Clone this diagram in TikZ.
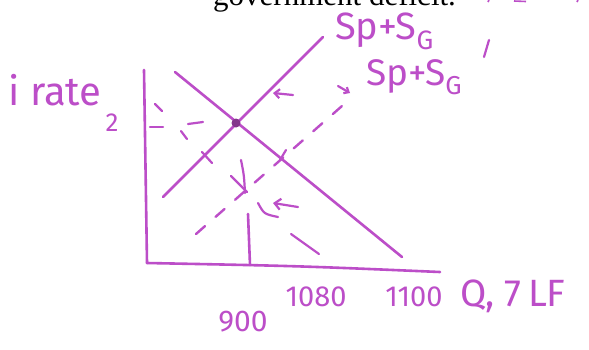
\documentclass[tikz,border=0pt]{standalone}
\usepackage{fontspec}
\setmainfont{Liberation Serif}
\newfontfamily\hand{Fira Sans}
\usetikzlibrary{arrows.meta}
\definecolor{pen}{RGB}{188,78,200}
\tikzset{
  ink/.style={draw=pen, line width=2.6pt, line cap=round, line join=round},
  inkthin/.style={draw=pen, line width=2.2pt, line cap=round},
  dashink/.style={draw=pen, line width=2.4pt, line cap=round, dash pattern=on 12pt off 14pt},
  hw/.style={text=pen, inner sep=0pt, font=\hand},
}
\begin{document}
\begin{tikzpicture}[x=1pt,y=-1pt]
\path[use as bounding box, fill=white] (0,0) rectangle (589,349);

% printed text, cut at the top
\node[anchor=base west, inner sep=0pt, font=\fontsize{31}{31}\selectfont] (cap) at (213,5) {government deficit.};
% magenta remnants at the top right
\coordinate (m1a) at (489,0); \coordinate (m1b) at (488,2);
\coordinate (m2a) at (514,1); \coordinate (m2b) at (526,1.5);
\coordinate (m3a) at (578,0); \coordinate (m3b) at (577,2);
\draw[draw=pen, line width=1.6pt] (m1a) -- (m1b);
\draw[draw=pen, line width=1.6pt] (m2a) -- (m2b);
\draw[draw=pen, line width=1.6pt] (m3a) -- (m3b);

% axes
\coordinate (ytop) at (144,70);
\coordinate (origin) at (147,263);
\coordinate (xend) at (440,272);
\draw[ink] (ytop) -- (origin);
\draw[ink] (origin) .. controls (300,266) .. (xend);

% demand line and supply line
\coordinate (d1) at (175,72);
\coordinate (d2) at (402,257);
\coordinate (s1) at (163,197);
\coordinate (s2) at (323,37);
\draw[ink] (d1) -- (d2);
\draw[ink] (s1) -- (s2);

% equilibrium dot
\node[circle, fill=pen!70!black, minimum size=9pt, inner sep=0pt] (eq) at (236,123) {};

% shifted supply (dashed)
\coordinate (sp1) at (196,234);
\coordinate (sp2) at (350,99);
\draw[dashink] (sp1) -- (sp2);

% dashed piece of shifted demand
\coordinate (dd1) at (291,234);
\coordinate (dd2) at (319,254);
\draw[inkthin] (dd1) -- (dd2);

% dashed line from the axis to the dot
\coordinate (h1) at (150,127); \coordinate (h2) at (163,127);
\coordinate (h3) at (188,124); \coordinate (h4) at (203,122);
\draw[inkthin] (h1) -- (h2);
\draw[inkthin] (h3) -- (h4);
\coordinate (k1) at (155,104); \coordinate (k2) at (162,111);
\coordinate (k3) at (181,131); \coordinate (k4) at (187,139);
\draw[inkthin] (k1) -- (k2);
\draw[inkthin] (k3) -- (k4);

% tick marks on the lines
\coordinate (t1a) at (202,152); \coordinate (t1b) at (212,163);
\coordinate (t2a) at (286,150); \coordinate (t2b) at (280,160);
\draw[inkthin] (t1a) -- (t1b);
\draw[inkthin] (t2a) -- (t2b);

% cross mark below the dot
\coordinate (x1a) at (241,160); \coordinate (x1b) at (245,193);
\coordinate (x2a) at (231,176); \coordinate (x2b) at (247,192);
\draw[inkthin] (x1a) .. controls (244,175) .. (x1b);
\draw[inkthin] (x2a) -- (x2b);

% vertical line at 900
\coordinate (v1) at (248,214);
\coordinate (v2) at (250,265);
\draw[ink] (v1) -- (v2);

% arrows
\coordinate (a1s) at (293,95); \coordinate (a1e) at (273,93);
\draw[inkthin, -{Straight Barb[length=5pt,width=9pt]}] (a1s) -- (a1e);
\coordinate (a2s) at (298,207); \coordinate (a2e) at (273,203);
\draw[inkthin, -{Straight Barb[length=6pt,width=11pt]}] (a2s) -- (a2e);
\coordinate (a2c) at (258,203); \coordinate (a2d) at (278,217);
\draw[inkthin] (a2c) .. controls (264,214) .. (a2d);
\coordinate (a3s) at (338,86); \coordinate (a3e) at (350,93);
\draw[inkthin, -{Straight Barb[length=4pt,width=7pt]}] (a3s) -- (a3e);

% labels
\node[hw, anchor=west, font=\hand\fontsize{40}{40}\selectfont] (lirate) at (8,90) {i rate};
\node[hw, font=\hand\fontsize{26}{26}\selectfont] (ltwo) at (112,123) {2};
\node[hw, anchor=west, font=\hand\fontsize{38}{38}\selectfont] (ls) at (335,31) {Sp+S\textsubscript{G}};
\node[hw, anchor=west, font=\hand\fontsize{37}{37}\selectfont] (lsp) at (366,77) {Sp+S\textsubscript{G}};
\coordinate (pr1) at (489,40); \coordinate (pr2) at (484,57);
\draw[inkthin] (pr1) -- (pr2);
\node[hw, font=\hand\fontsize{30}{30}\selectfont] (l900) at (243,322) {900};
\node[hw, font=\hand\fontsize{29}{29}\selectfont] (l1080) at (316,297) {1080};
\node[hw, font=\hand\fontsize{29}{29}\selectfont] (l1100) at (414,297) {1100};
\node[hw, anchor=west, font=\hand\fontsize{38}{38}\selectfont] (lq) at (460,296) {Q, 7\,LF};
\end{tikzpicture}
\end{document}
